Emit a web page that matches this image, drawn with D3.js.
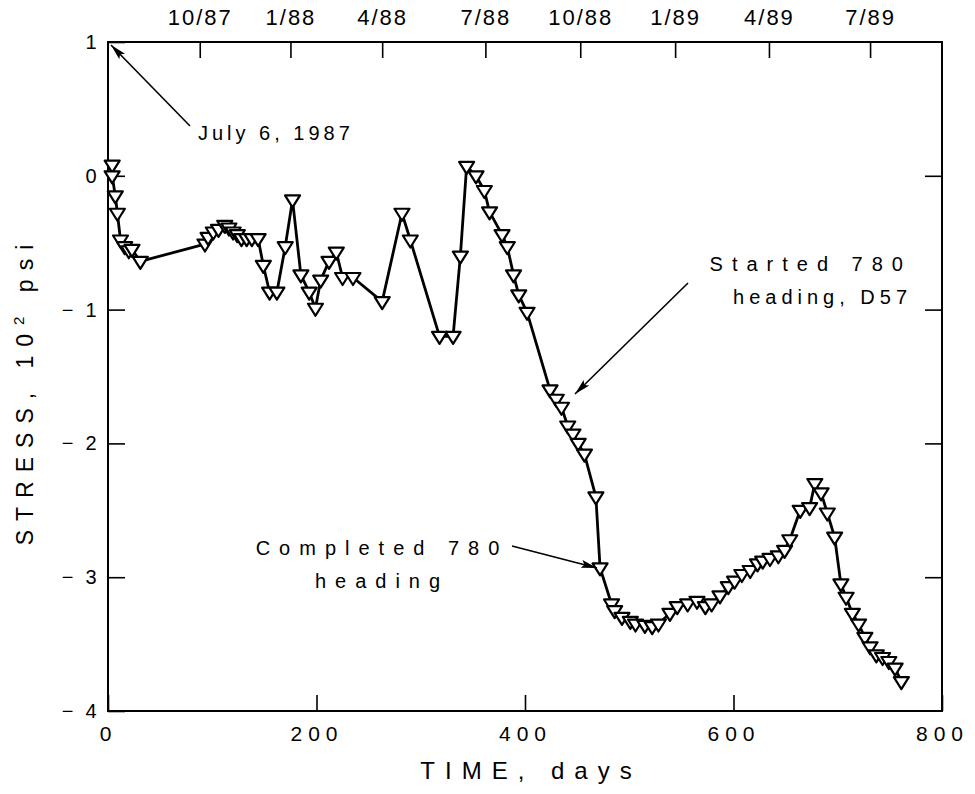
<!DOCTYPE html>
<html>
<head>
<meta charset="utf-8">
<script src="https://cdn.jsdelivr.net/npm/d3@7"></script>
<style>
  html, body { margin: 0; padding: 0; background: #fff; }
  svg { display: block; font-family: "Liberation Sans", Arial, Helvetica, sans-serif; }
</style>
</head>
<body>
<svg id="chart" width="975" height="794"></svg>
<script>
// Stress history, days since July 6, 1987 (stress in 10^2 psi)
const days = [
  4, 4, 7, 9, 12, 16, 20, 23, 31,
  93, 96, 101, 106, 112, 116, 120, 124, 128, 133, 138, 144,
  149, 155, 162, 170, 177, 185, 193, 199, 204, 212, 219, 225, 235,
  263, 282, 290, 318, 331, 338, 344, 353, 361, 366, 378, 383, 389, 394, 402,
  424, 430, 435, 441, 446, 451, 457, 468, 472,
  483, 486, 493, 501, 506, 515, 522, 528, 539, 546, 556, 565, 573, 579,
  587, 595, 601, 608, 616, 623, 628, 635, 643, 649, 654, 664, 673, 678,
  684, 690, 697, 703, 708, 714, 720, 726, 731, 737, 743, 749, 755, 761
];
const stress = [
  0.08, 0.0, -0.15, -0.28, -0.48, -0.53, -0.56, -0.55, -0.64,
  -0.51, -0.46, -0.42, -0.40, -0.37, -0.39, -0.42, -0.44, -0.47, -0.47, -0.47, -0.47,
  -0.67, -0.87, -0.87, -0.53, -0.18, -0.74, -0.87, -0.99, -0.78, -0.64, -0.57, -0.76, -0.76,
  -0.94, -0.28, -0.48, -1.20, -1.20, -0.60, 0.07, 0.0, -0.11, -0.27, -0.44, -0.53, -0.74, -0.89, -1.02,
  -1.60, -1.67, -1.73, -1.87, -1.93, -2.00, -2.08, -2.40, -2.93,
  -3.20, -3.25, -3.30, -3.33, -3.35, -3.36, -3.37, -3.35, -3.27, -3.22, -3.20, -3.18, -3.22, -3.20,
  -3.14, -3.07, -3.03, -2.98, -2.95, -2.90, -2.88, -2.86, -2.84, -2.80, -2.72, -2.50, -2.48, -2.30,
  -2.37, -2.52, -2.70, -3.05, -3.15, -3.27, -3.35, -3.45, -3.52, -3.58, -3.60, -3.63, -3.68, -3.78
];

// Axis ticks
const xTicks = [0, 200, 400, 600, 800];
const yTicks = [1, 0, -1, -2, -3, -4];
const dateTickDays = [88, 175, 263, 362, 453, 544, 634, 731];
const dateTickLabels = ["10/87", "1/88", "4/88", "7/88", "10/88", "1/89", "4/89", "7/89"];

const svg = d3.select("#chart");
const x = d3.scaleLinear().domain([0, 800]).range([108, 942]);
const y = d3.scaleLinear().domain([-4, 1]).range([711, 42]);

// Frame
svg.append("rect")
  .attr("x", x(0)).attr("y", y(1))
  .attr("width", x(800) - x(0)).attr("height", y(-4) - y(1))
  .attr("fill", "none").attr("stroke", "#000").attr("stroke-width", 2);

function styleAxis(g, size, spacing) {
  g.select(".domain").remove();
  g.selectAll(".tick line").attr("stroke", "#000").attr("stroke-width", 1.6);
  g.selectAll(".tick text").attr("fill", "#000")
    .style("font-size", size + "px").style("letter-spacing", spacing + "px");
}

// Bottom axis
svg.append("g").attr("transform", `translate(0,${y(-4)})`)
  .call(d3.axisBottom(x).tickValues(xTicks).tickSize(-16).tickPadding(15).tickFormat(d3.format("d")))
  .call(g => styleAxis(g, 21, 6));

// Left axis
svg.append("g").attr("transform", `translate(${x(0)},0)`)
  .call(d3.axisLeft(y).tickValues(yTicks).tickSize(-17).tickPadding(8)
    .tickFormat(d => d < 0 ? "\u2212 " + Math.abs(d) : String(d)))
  .call(g => styleAxis(g, 20, 3.3));

// Right axis (ticks only)
svg.append("g").attr("transform", `translate(${x(800)},0)`)
  .call(d3.axisRight(y).tickValues(yTicks.slice(1, -1)).tickSize(-17).tickFormat(""))
  .call(g => styleAxis(g, 20, 0));

// Top axis with calendar dates
svg.append("g").attr("transform", `translate(0,${y(1)})`)
  .call(d3.axisTop(x).tickValues(dateTickDays).tickSize(-16).tickPadding(17)
    .tickFormat((d, i) => dateTickLabels[i]))
  .call(g => styleAxis(g, 22, 2));

// Axis titles
svg.append("text")
  .attr("x", (x(0) + x(800)) / 2 + 6).attr("y", 779)
  .attr("text-anchor", "middle")
  .style("font-size", "24px").style("letter-spacing", "10px")
  .text("TIME, days");

const yt = svg.append("text")
  .attr("transform", `translate(33,${(y(1) + y(-4)) / 2 + 14}) rotate(-90)`)
  .attr("text-anchor", "middle")
  .style("font-size", "23px").style("letter-spacing", "9px");
yt.append("tspan").text("STRESS, 10");
yt.append("tspan").attr("dy", -9).style("font-size", "15px").text("2");
yt.append("tspan").attr("dy", 9).text(" psi");

// Series line
const pts = days.map((d, i) => [d, stress[i]]);
svg.append("path")
  .datum(pts)
  .attr("fill", "none").attr("stroke", "#000").attr("stroke-width", 2.8)
  .attr("stroke-linejoin", "round")
  .attr("d", d3.line().x(d => x(d[0])).y(d => y(d[1])));

// Open down-pointing triangle markers
svg.append("g").selectAll("path")
  .data(pts).join("path")
  .attr("transform", d => `translate(${x(d[0])},${y(d[1])})`)
  .attr("d", "M-7.5,-4.5L7.5,-4.5L0,7.5Z")
  .attr("fill", "#fff").attr("stroke", "#000").attr("stroke-width", 2.2)
  .attr("stroke-linejoin", "round");

// Arrowhead
svg.append("defs").append("marker")
  .attr("id", "arrow").attr("viewBox", "0 0 16 8")
  .attr("refX", 16).attr("refY", 4)
  .attr("markerWidth", 16).attr("markerHeight", 8)
  .attr("markerUnits", "userSpaceOnUse").attr("orient", "auto")
  .append("path").attr("d", "M0,0L16,4L0,8L3,4Z").attr("fill", "#000");

// Annotations with arrows; each line carries its own tracking
function note(lines, tx, ty, anchor, lineGap, from, to) {
  const t = svg.append("text")
    .attr("text-anchor", anchor)
    .style("font-size", "20px");
  lines.forEach(([s, sp], i) => t.append("tspan")
    .attr("x", tx).attr("y", ty + i * lineGap)
    .style("letter-spacing", sp + "px").text(s));
  svg.append("line")
    .attr("x1", from[0]).attr("y1", from[1]).attr("x2", to[0]).attr("y2", to[1])
    .attr("stroke", "#000").attr("stroke-width", 1.6)
    .attr("marker-end", "url(#arrow)");
}

note([["July 6, 1987", 4]], 198, 140, "start", 0, [190, 126], [x(0) + 3, y(1) + 3]);
note([["Started 780", 9], ["heading, D57", 5]], 912, 271, "end", 33, [688, 283], [575, 394]);
note([["Completed 780", 9], ["heading", 9]], 382, 555, "middle", 33, [512, 546], [597, 568]);
</script>
</body>
</html>
